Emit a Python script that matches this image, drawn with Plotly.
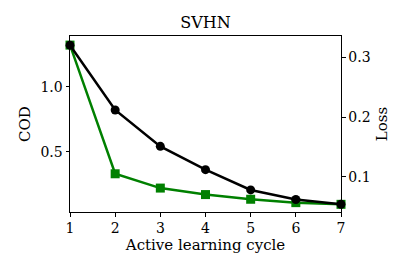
import plotly.graph_objects as go

cycles = [1, 2, 3, 4, 5, 6, 7]
cod = [1.32, 0.33, 0.22, 0.17, 0.134, 0.108, 0.095]
loss = [0.3206, 0.212, 0.151, 0.112, 0.078, 0.062, 0.054]

font = "DejaVu Serif"
# page body has an 8px margin, so the figure is shifted by (8, 8)
W, H = 403, 266
L, T = 62, 28
PW, PH = 271, 176

fig = go.Figure()
fig.add_trace(go.Scatter(x=cycles, y=cod, mode="lines+markers",
                         line=dict(color="#008000", width=2.5),
                         marker=dict(symbol="square", size=9, color="#008000"),
                         cliponaxis=False, showlegend=False))
fig.add_trace(go.Scatter(x=cycles, y=loss, mode="lines+markers", yaxis="y2",
                         line=dict(color="black", width=2.5),
                         marker=dict(symbol="circle", size=9, color="black"),
                         cliponaxis=False, showlegend=False))

axis_common = dict(showgrid=False, zeroline=False, showline=True, linecolor="black",
                   linewidth=1, ticks="outside", ticklen=3.5, tickwidth=1, tickcolor="black",
                   automargin=False,
                   tickfont=dict(family=font, size=14, color="black"))

fig.update_layout(
    width=W, height=H,
    margin=dict(l=L, r=W - L - PW, t=T, b=H - T - PH, autoexpand=False),
    paper_bgcolor="white", plot_bgcolor="white",
    title=dict(text="SVHN", x=0.5, xanchor="center", y=1 - 14 / H, yanchor="middle",
               xref="paper", yref="container",
               font=dict(family=font, size=16, color="black")),
    xaxis=dict(range=[1, 7], tickvals=cycles, mirror=True,
               title=dict(text="Active learning cycle", standoff=3,
                          font=dict(family=font, size=15, color="black")),
               **axis_common),
    yaxis=dict(range=[0.036, 1.39], tickvals=[0.5, 1.0], ticktext=["0.5", "1.0"],
               title=dict(text="COD", standoff=6, font=dict(family=font, size=15, color="black")),
               **axis_common),
    yaxis2=dict(range=[0.041, 0.336], overlaying="y", side="right",
                tickvals=[0.1, 0.2, 0.3], ticktext=["0.1", "0.2", "0.3"],
                title=dict(text="Loss", standoff=6, font=dict(family=font, size=15, color="black")),
                **axis_common),
)
fig.write_html("out.html")
